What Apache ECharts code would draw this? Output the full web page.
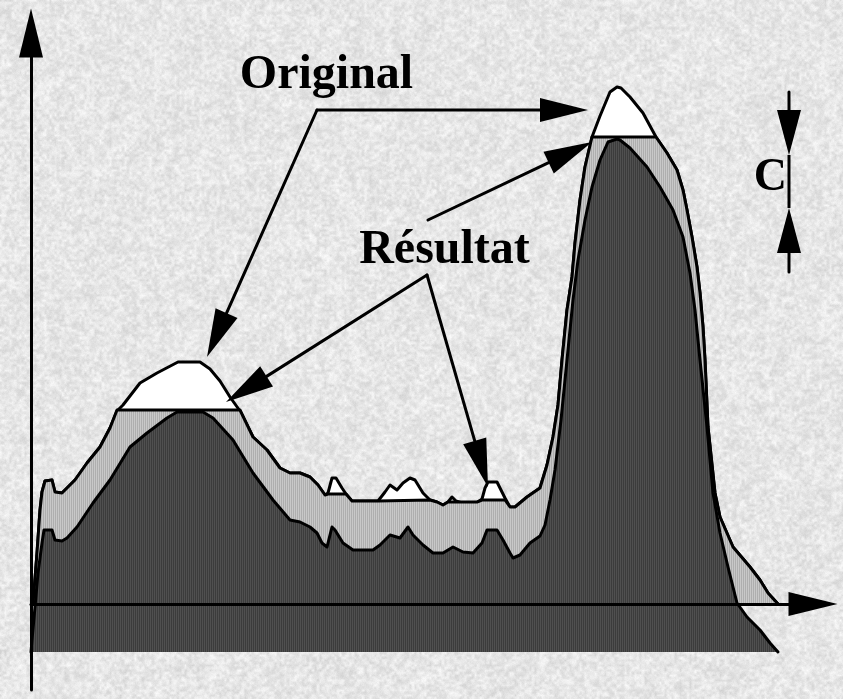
<!DOCTYPE html>
<html>
<head>
<meta charset="utf-8">
<script src="https://cdn.jsdelivr.net/npm/echarts@6/dist/echarts.min.js"></script>
<style>
  html, body { margin: 0; padding: 0; background: #e2e2e2; }
  #chart { width: 843px; height: 699px; }
</style>
</head>
<body>
<div id="chart"></div>
<script>
// Grey-level profile f (bin, count) with its domes
const originalCurve = [
  [2,0],[6,51],[9,94],[11,112],[14,123],[21,124],[24,112],[31,111],[36,116],[44,124],
  [56,141],[69,157],[79,176],[86,193],[92,199],[109,221],[126,231],[147,242],[169,242],
  [179,235],[189,223],[199,207],[209,193],[222,167],[236,154],[249,136],[259,131],[269,131],
  [279,127],[287,119],[294,109],[297,111],[301,126],[305,126],[311,116],[315,110],[321,103],
  [347,103],[354,112],[359,119],[366,114],[372,121],[379,126],[384,124],[392,111],[399,104],
  [406,102],[412,99],[417,102],[421,107],[425,103],[431,101],[446,101],[451,105],[454,116],
  [457,122],[466,122],[474,106],[479,97],[484,97],[496,107],[509,116],[516,139],[522,167],
  [527,199],[531,244],[536,294],[541,327],[544,361],[549,404],[554,437],[561,467],[569,488],
  [579,512],[586,517],[590,516],[599,507],[612,491],[625,467],[636,451],[646,434],[652,414],
  [656,394],[661,367],[666,337],[669,311],[672,277],[674,244],[677,177],[684,111],[689,87],
  [702,57],[719,37],[729,24],[737,11],[747,0]
];

// Reconstruction: the profile with its domes levelled off
const resultCurve = [
  [2,0],[6,51],[9,94],[11,112],[14,123],[21,124],[24,112],[31,111],[36,116],[44,124],
  [56,141],[69,157],[79,176],[86,194],[209,194],[222,167],[236,154],[249,136],[259,131],
  [269,131],[279,127],[287,119],[294,109],[297,110],[315,110],[321,103],[347,103],[399,104],
  [406,102],[412,99],[417,102],[446,102],[451,104],[474,104],[479,97],[484,97],[496,107],
  [509,116],[516,139],[522,167],[527,199],[531,244],[536,294],[541,327],[544,361],[549,404],
  [554,437],[561,467],[625,467],[636,451],[646,434],[652,414],[656,394],[661,367],[666,337],
  [669,311],[672,277],[674,244],[677,177],[684,111],[689,87],[702,57],[719,37],[729,24],
  [737,11],[747,0]
];

// Profile lowered by C
const loweredCurve = [
  [0,-48],[1,-36],[4,-3],[7,31],[11,61],[13,74],[21,74],[24,64],[31,63],[36,66],[46,77],
  [62,101],[79,124],[99,157],[116,171],[136,186],[146,192],[172,192],[182,186],[202,164],
  [222,131],[242,104],[259,84],[269,82],[279,77],[286,71],[291,61],[296,57],[301,77],[304,74],
  [312,61],[322,54],[342,54],[349,59],[359,69],[369,66],[377,77],[382,69],[392,59],[402,51],
  [412,51],[422,57],[432,52],[442,51],[451,61],[456,74],[466,74],[472,64],[479,51],[482,46],
  [489,49],[499,61],[509,68],[514,79],[519,104],[524,134],[530,184],[536,244],[542,304],
  [547,344],[554,384],[561,417],[569,444],[577,462],[586,465],[589,464],[599,456],[616,437],
  [629,417],[642,394],[652,367],[659,331],[664,294],[669,244],[676,177],[682,111],[689,71],
  [697,37],[706,1],[716,-13],[729,-26],[739,-39],[747,-48]
];

const shiftC = 48;

// Axis extents
const xRange = [0, 782];
const yRange = [-86, 571];

// Text labels
const labelOriginal = 'Original';
const labelResult = 'Résultat';
const labelC = 'C';

// Grainy paper texture for the page
function paperTexture(w, h) {
  const cv = document.createElement('canvas');
  cv.width = w; cv.height = h;
  const g = cv.getContext('2d');
  const img = g.createImageData(w, h);
  function hash(x, y) {
    let n = (x * 374761393 + y * 668265263) | 0;
    n = Math.imul(n ^ (n >>> 13), 1274126177);
    return ((n ^ (n >>> 16)) >>> 0) / 4294967295;
  }
  function vnoise(x, y, s) {
    const gx = Math.floor(x / s), gy = Math.floor(y / s);
    const fx = x / s - gx, fy = y / s - gy;
    const a = hash(gx, gy), b = hash(gx + 1, gy), c = hash(gx, gy + 1), d = hash(gx + 1, gy + 1);
    return (a * (1 - fx) + b * fx) * (1 - fy) + (c * (1 - fx) + d * fx) * fy;
  }
  for (let y = 0; y < h; y++) {
    for (let x = 0; x < w; x++) {
      const n = 0.6 * vnoise(x, y, 2.5) + 0.25 * vnoise(x + 999, y + 777, 7) + 0.15 * hash(x + 5, y + 11);
      const v = Math.round(206 + 48 * n);
      const i = (y * w + x) * 4;
      img.data[i] = v; img.data[i + 1] = v; img.data[i + 2] = v; img.data[i + 3] = 255;
    }
  }
  g.putImageData(img, 0, 0);
  return cv.toDataURL();
}

// Fine vertical hatching used for the filled regions
function hatch(c1, c2) {
  const cv = document.createElement('canvas');
  cv.width = 2; cv.height = 2;
  const g = cv.getContext('2d');
  g.fillStyle = c1; g.fillRect(0, 0, 1, 2);
  g.fillStyle = c2; g.fillRect(1, 0, 1, 2);
  return { image: cv, repeat: 'repeat' };
}

const el = document.getElementById('chart');
el.style.background = 'url(' + paperTexture(843, 699) + ')';

const chart = echarts.init(el, null, { renderer: 'canvas' });

const axisLine = {
  show: true,
  onZero: true,
  symbol: ['none', 'triangle'],
  symbolSize: [24, 49],
  lineStyle: { color: '#000', width: 3 }
};

const outline = { color: '#000', width: 3, join: 'round', cap: 'round' };

chart.setOption({
  animation: false,
  backgroundColor: 'transparent',
  grid: { left: 31, right: 30, top: 33, bottom: 9 },
  xAxis: {
    type: 'value', min: xRange[0], max: xRange[1], z: 10,
    axisLine: axisLine, axisTick: { show: false }, axisLabel: { show: false }, splitLine: { show: false }
  },
  yAxis: {
    type: 'value', min: yRange[0], max: yRange[1], z: 10,
    axisLine: axisLine, axisTick: { show: false }, axisLabel: { show: false }, splitLine: { show: false }
  },
  series: [
    {
      name: labelOriginal, type: 'line', data: originalCurve, z: 2,
      showSymbol: false, symbol: 'none', smooth: false,
      lineStyle: outline,
      areaStyle: { color: '#ffffff', opacity: 1, origin: 0 }
    },
    {
      name: labelResult, type: 'line', data: resultCurve, z: 3,
      showSymbol: false, symbol: 'none', smooth: false,
      lineStyle: outline,
      areaStyle: { color: hatch('#c8c8c8', '#aeaeae'), opacity: 1, origin: 0 }
    },
    {
      name: 'f - C', type: 'line', data: loweredCurve, z: 4,
      showSymbol: false, symbol: 'none', smooth: false,
      lineStyle: outline,
      areaStyle: { color: hatch('#505050', '#3c3c3c'), opacity: 1, origin: -shiftC }
    }
  ]
});

// Annotations placed in data coordinates
function toPx(p) { return chart.convertToPixel({ gridIndex: 0 }, p); }

function arrow(from, to, len, wid) {
  const a = toPx(from), b = toPx(to);
  const dx = b[0] - a[0], dy = b[1] - a[1];
  const L = Math.hypot(dx, dy), ux = dx / L, uy = dy / L;
  const bx = b[0] - ux * len, by = b[1] - uy * len;
  return [
    { type: 'line', z: 20, shape: { x1: a[0], y1: a[1], x2: bx, y2: by },
      style: { stroke: '#000', lineWidth: 3, lineCap: 'round' } },
    { type: 'polygon', z: 20,
      shape: { points: [[b[0], b[1]], [bx - uy * wid / 2, by + ux * wid / 2], [bx + uy * wid / 2, by - ux * wid / 2]] },
      style: { fill: '#000' } }
  ];
}

function segment(from, to) {
  const a = toPx(from), b = toPx(to);
  return { type: 'line', z: 20, shape: { x1: a[0], y1: a[1], x2: b[0], y2: b[1] },
    style: { stroke: '#000', lineWidth: 3 } };
}

function label(text, at, size, align) {
  const p = toPx(at);
  return { type: 'text', z: 21, x: p[0], y: p[1],
    style: { text: text, font: 'bold ' + size + 'px "Liberation Serif", "Times New Roman", serif',
      fill: '#000', align: align, verticalAlign: 'middle' } };
}

const elements = [].concat(
  label(labelOriginal, [295.5, 528], 48, 'center'),
  arrow([286, 494], [557, 494], 48, 24),
  arrow([286, 494], [176, 247], 48, 24),
  label(labelResult, [413.5, 353], 48, 'center'),
  arrow([397, 384], [561, 462], 48, 24),
  arrow([396, 329], [195, 202], 48, 24),
  arrow([396, 329], [457, 117], 48, 24),
  arrow([758, 512], [758, 449], 45, 24),
  arrow([758, 332], [758, 396], 45, 24),
  segment([758, 449], [758, 396]),
  label(labelC, [756, 426], 46, 'right')
);

chart.setOption({ graphic: { elements: elements } });
</script>
</body>
</html>
